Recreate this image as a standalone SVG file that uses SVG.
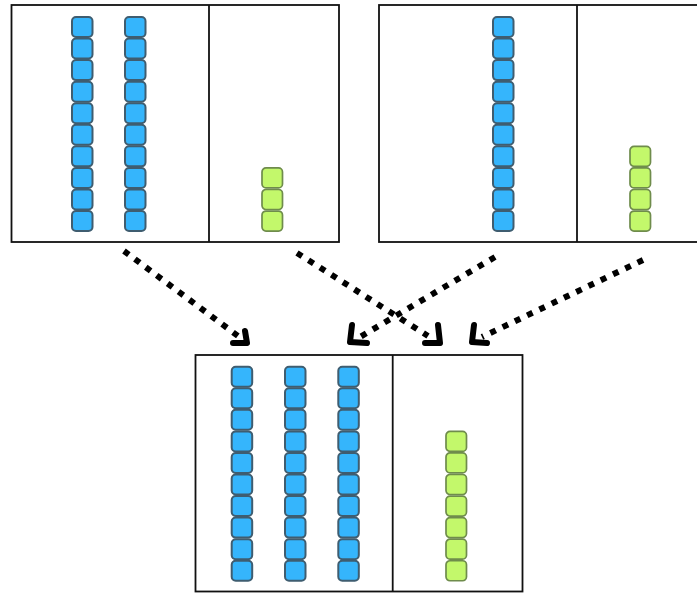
<svg xmlns="http://www.w3.org/2000/svg" xmlns:xlink="http://www.w3.org/1999/xlink" width="697" height="593" viewBox="0 0 697 593">
<style>
.frame{fill:#fff;stroke:#111;stroke-width:1.8}
.div{stroke:#111;stroke-width:1.8}
.conn{fill:none;stroke:#000;stroke-width:6;stroke-dasharray:6 7.6}
.head{fill:none;stroke:#000;stroke-width:6;stroke-linecap:round;stroke-linejoin:round}
</style>
<defs>
<rect id="b" width="20.5" height="20" rx="4" fill="#35b5fc" stroke="#3f5d70" stroke-width="2"/>
<rect id="g" width="20.5" height="20" rx="4" fill="#c3f86b" stroke="#6f8c4c" stroke-width="1.7"/>
</defs>
<rect width="697" height="593" fill="#fff"/>
<g id="panel-a">
<rect class="frame" x="11.5" y="5" width="327.5" height="237"/>
<line class="div" x1="209" y1="5" x2="209" y2="242"/>
<use xlink:href="#b" x="72" y="17"/><use xlink:href="#b" x="72" y="38.56"/><use xlink:href="#b" x="72" y="60.12"/><use xlink:href="#b" x="72" y="81.68"/><use xlink:href="#b" x="72" y="103.24"/><use xlink:href="#b" x="72" y="124.8"/><use xlink:href="#b" x="72" y="146.36"/><use xlink:href="#b" x="72" y="167.92"/><use xlink:href="#b" x="72" y="189.48"/><use xlink:href="#b" x="72" y="211.04"/>
<use xlink:href="#b" x="125" y="17"/><use xlink:href="#b" x="125" y="38.56"/><use xlink:href="#b" x="125" y="60.12"/><use xlink:href="#b" x="125" y="81.68"/><use xlink:href="#b" x="125" y="103.24"/><use xlink:href="#b" x="125" y="124.8"/><use xlink:href="#b" x="125" y="146.36"/><use xlink:href="#b" x="125" y="167.92"/><use xlink:href="#b" x="125" y="189.48"/><use xlink:href="#b" x="125" y="211.04"/>
<use xlink:href="#g" x="262" y="167.92"/><use xlink:href="#g" x="262" y="189.48"/><use xlink:href="#g" x="262" y="211.04"/>
</g>
<g id="panel-b">
<rect class="frame" x="379" y="5" width="330" height="237"/>
<line class="div" x1="577" y1="5" x2="577" y2="242"/>
<use xlink:href="#b" x="493" y="17"/><use xlink:href="#b" x="493" y="38.56"/><use xlink:href="#b" x="493" y="60.12"/><use xlink:href="#b" x="493" y="81.68"/><use xlink:href="#b" x="493" y="103.24"/><use xlink:href="#b" x="493" y="124.8"/><use xlink:href="#b" x="493" y="146.36"/><use xlink:href="#b" x="493" y="167.92"/><use xlink:href="#b" x="493" y="189.48"/><use xlink:href="#b" x="493" y="211.04"/>
<use xlink:href="#g" x="630" y="146.36"/><use xlink:href="#g" x="630" y="167.92"/><use xlink:href="#g" x="630" y="189.48"/><use xlink:href="#g" x="630" y="211.04"/>
</g>
<g id="panel-sum">
<rect class="frame" x="195.5" y="355" width="327" height="236.5"/>
<line class="div" x1="392.7" y1="355" x2="392.7" y2="591.5"/>
<use xlink:href="#b" x="231.7" y="366.7"/><use xlink:href="#b" x="231.7" y="388.26"/><use xlink:href="#b" x="231.7" y="409.82"/><use xlink:href="#b" x="231.7" y="431.38"/><use xlink:href="#b" x="231.7" y="452.94"/><use xlink:href="#b" x="231.7" y="474.5"/><use xlink:href="#b" x="231.7" y="496.06"/><use xlink:href="#b" x="231.7" y="517.62"/><use xlink:href="#b" x="231.7" y="539.18"/><use xlink:href="#b" x="231.7" y="560.74"/>
<use xlink:href="#b" x="285" y="366.7"/><use xlink:href="#b" x="285" y="388.26"/><use xlink:href="#b" x="285" y="409.82"/><use xlink:href="#b" x="285" y="431.38"/><use xlink:href="#b" x="285" y="452.94"/><use xlink:href="#b" x="285" y="474.5"/><use xlink:href="#b" x="285" y="496.06"/><use xlink:href="#b" x="285" y="517.62"/><use xlink:href="#b" x="285" y="539.18"/><use xlink:href="#b" x="285" y="560.74"/>
<use xlink:href="#b" x="338.3" y="366.7"/><use xlink:href="#b" x="338.3" y="388.26"/><use xlink:href="#b" x="338.3" y="409.82"/><use xlink:href="#b" x="338.3" y="431.38"/><use xlink:href="#b" x="338.3" y="452.94"/><use xlink:href="#b" x="338.3" y="474.5"/><use xlink:href="#b" x="338.3" y="496.06"/><use xlink:href="#b" x="338.3" y="517.62"/><use xlink:href="#b" x="338.3" y="539.18"/><use xlink:href="#b" x="338.3" y="560.74"/>
<use xlink:href="#g" x="446" y="431.38"/><use xlink:href="#g" x="446" y="452.94"/><use xlink:href="#g" x="446" y="474.5"/><use xlink:href="#g" x="446" y="496.06"/><use xlink:href="#g" x="446" y="517.62"/><use xlink:href="#g" x="446" y="539.18"/><use xlink:href="#g" x="446" y="560.74"/>
</g>
<g id="connectors">
<path class="conn" d="M124,251 L238,336"/>
<path class="head" d="M245,331 L247,343 L233,343"/>
<path class="conn" d="M297,253 L428,336"/>
<path class="head" d="M438,325 L440,343 L425,343"/>
<path class="conn" d="M495,257 L360,337"/>
<path class="head" d="M352,325 L350,342 L367,343"/>
<path class="conn" d="M643,260 L482,337"/>
<path class="head" d="M474,325 L472,342 L487,343"/>
</g>
</svg>
